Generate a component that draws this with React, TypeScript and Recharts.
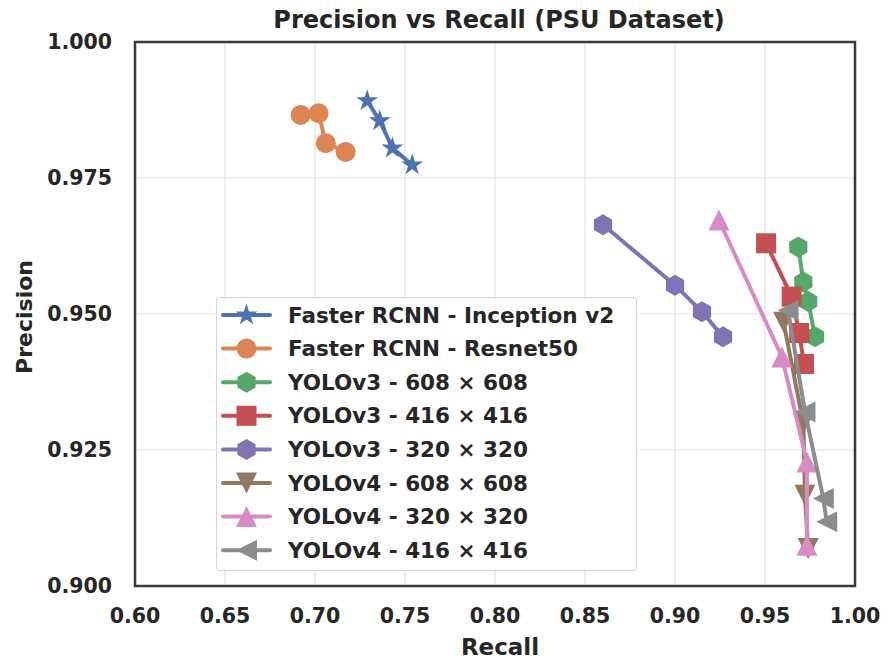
import React from "react";
import {
  ScatterChart,
  Scatter,
  XAxis,
  YAxis,
  CartesianGrid,
  ReferenceArea,
  Legend,
} from "recharts";

// recall / precision, 4 points per model
const inceptionRecall = [0.729, 0.736, 0.743, 0.754];
const inceptionPrecision = [0.9892, 0.9855, 0.9805, 0.9774];
const resnetRecall = [0.692, 0.702, 0.706, 0.717];
const resnetPrecision = [0.9866, 0.9869, 0.9814, 0.9798];
const v3_608Recall = [0.9685, 0.9713, 0.974, 0.9778];
const v3_608Precision = [0.9623, 0.9559, 0.9523, 0.9458];
const v3_416Recall = [0.9506, 0.9648, 0.969, 0.9717];
const v3_416Precision = [0.963, 0.9532, 0.9465, 0.9408];
const v3_320Recall = [0.86, 0.9, 0.915, 0.9267];
const v3_320Precision = [0.9664, 0.9553, 0.9504, 0.9458];
const v4_608Recall = [0.9603, 0.9713, 0.9722, 0.974];
const v4_608Precision = [0.9485, 0.9299, 0.9167, 0.9069];
const v4_320Recall = [0.9244, 0.9594, 0.9733, 0.9733];
const v4_320Precision = [0.9673, 0.9421, 0.9228, 0.9075];
const v4_416Recall = [0.9628, 0.9722, 0.9824, 0.9843];
const v4_416Precision = [0.9507, 0.932, 0.9161, 0.9118];

const xTicks = [0.6, 0.65, 0.7, 0.75, 0.8, 0.85, 0.9, 0.95, 1.0];
const yTicks = [0.9, 0.925, 0.95, 0.975, 1.0];

type Kind = "star" | "circle" | "hexagon" | "square" | "tri_down" | "tri_up" | "tri_left";

const zip = (r: number[], p: number[]) => r.map((v, i) => ({ recall: v, precision: p[i] }));

const series = [
  { name: "Faster RCNN - Inception v2", color: "#4C72B0", kind: "star" as Kind, data: zip(inceptionRecall, inceptionPrecision) },
  { name: "Faster RCNN - Resnet50", color: "#DD8452", kind: "circle" as Kind, data: zip(resnetRecall, resnetPrecision) },
  { name: "YOLOv3 - 608 × 608", color: "#55A868", kind: "hexagon" as Kind, data: zip(v3_608Recall, v3_608Precision) },
  { name: "YOLOv3 - 416 × 416", color: "#C44E52", kind: "square" as Kind, data: zip(v3_416Recall, v3_416Precision) },
  { name: "YOLOv3 - 320 × 320", color: "#8172B3", kind: "hexagon" as Kind, data: zip(v3_320Recall, v3_320Precision) },
  { name: "YOLOv4 - 608 × 608", color: "#937860", kind: "tri_down" as Kind, data: zip(v4_608Recall, v4_608Precision) },
  { name: "YOLOv4 - 320 × 320", color: "#DA8BC3", kind: "tri_up" as Kind, data: zip(v4_320Recall, v4_320Precision) },
  { name: "YOLOv4 - 416 × 416", color: "#8C8C8C", kind: "tri_left" as Kind, data: zip(v4_416Recall, v4_416Precision) },
];

const FONT = '"DejaVu Sans", sans-serif';
const INK = "#262626";

function poly(pts: number[][]) {
  return pts.map((p) => p.join(",")).join(" ");
}

function Marker({ kind, cx, cy, color }: { kind: Kind; cx: number; cy: number; color: string }) {
  const r = 10.5;
  if (kind === "circle") return <circle cx={cx} cy={cy} r={10} fill={color} />;
  if (kind === "square") return <rect x={cx - 10} y={cy - 10} width={20} height={20} fill={color} />;
  if (kind === "star") {
    const pts: number[][] = [];
    for (let i = 0; i < 10; i++) {
      const rr = i % 2 === 0 ? 11.5 : 11.5 * 0.382;
      const a = -Math.PI / 2 + (i * Math.PI) / 5;
      pts.push([cx + rr * Math.cos(a), cy + rr * Math.sin(a)]);
    }
    return <polygon points={poly(pts)} fill={color} />;
  }
  if (kind === "hexagon") {
    const pts: number[][] = [];
    for (let i = 0; i < 6; i++) {
      const a = -Math.PI / 2 + (i * Math.PI) / 3;
      pts.push([cx + r * Math.cos(a), cy + r * Math.sin(a)]);
    }
    return <polygon points={poly(pts)} fill={color} />;
  }
  if (kind === "tri_up")
    return <polygon points={poly([[cx, cy - r], [cx - r, cy + r], [cx + r, cy + r]])} fill={color} />;
  if (kind === "tri_down")
    return <polygon points={poly([[cx, cy + r], [cx - r, cy - r], [cx + r, cy - r]])} fill={color} />;
  return <polygon points={poly([[cx - r, cy], [cx + r, cy - r], [cx + r, cy + r]])} fill={color} />;
}

function LegendBox() {
  return (
    <div
      style={{
        width: "100%",
        height: "100%",
        boxSizing: "border-box",
        border: "1px solid #d4d4d4",
        borderRadius: 4,
        background: "rgba(255,255,255,0.85)",
      }}
    >
      <svg width={419} height={272} style={{ display: "block" }}>
        {series.map((s, i) => {
          const y = 17 + i * 33.6;
          return (
            <g key={s.name}>
              <line x1={6} x2={53} y1={y} y2={y} stroke={s.color} strokeWidth={4} strokeLinecap="round" />
              <Marker kind={s.kind} cx={29.5} cy={y} color={s.color} />
              <text
                x={71}
                y={y}
                dominantBaseline="central"
                fontFamily={FONT}
                fontWeight="bold"
                fontSize={21.5}
                fill={INK}
              >
                {s.name}
              </text>
            </g>
          );
        })}
      </svg>
    </div>
  );
}

export default function App() {
  const tickStyle = { fill: INK, fontSize: 20.5, fontWeight: "bold", fontFamily: FONT };
  return (
    <div style={{ position: "absolute", left: 0, top: 0, width: 895, height: 659, background: "#fff" }}>
      <div
        style={{
          position: "absolute",
          left: 139,
          width: 720,
          top: 6,
          textAlign: "center",
          fontFamily: FONT,
          fontWeight: "bold",
          fontSize: 24,
          color: INK,
        }}
      >
        Precision vs Recall (PSU Dataset)
      </div>
      <ScatterChart width={895} height={659} margin={{ top: 42, right: 40, left: 0, bottom: 0 }}>
        <CartesianGrid stroke="#e3e3e3" strokeWidth={1.2} />
        <XAxis
          type="number"
          dataKey="recall"
          domain={[0.6, 1.0]}
          ticks={xTicks}
          allowDataOverflow
          height={73}
          tickLine={false}
          axisLine={false}
          tickSize={6}
          tickMargin={16}
          tick={tickStyle}
          tickFormatter={(v: number) => v.toFixed(2)}
          label={{
            content: () => (
              <text
                x={500}
                y={655}
                textAnchor="middle"
                fill={INK}
                fontSize={23}
                fontWeight="bold"
                fontFamily={FONT}
              >
                Recall
              </text>
            ),
          }}
        />
        <YAxis
          type="number"
          dataKey="precision"
          domain={[0.9, 1.0]}
          ticks={yTicks}
          allowDataOverflow
          width={135}
          tickLine={false}
          axisLine={false}
          tickSize={6}
          tickMargin={17}
          tick={tickStyle}
          tickFormatter={(v: number) => v.toFixed(3)}
          label={{
            content: () => (
              <text
                x={24}
                y={317}
                transform="rotate(-90 24 317)"
                textAnchor="middle"
                dominantBaseline="central"
                fill={INK}
                fontSize={22}
                fontWeight="bold"
                fontFamily={FONT}
              >
                Precision
              </text>
            ),
          }}
        />
        <ReferenceArea x1={0.6} x2={1.0} y1={0.9} y2={1.0} fill="none" stroke="#3a3a3a" strokeWidth={2.5} />
        {series.map((s) => (
          <Scatter
            key={s.name}
            name={s.name}
            data={s.data}
            fill={s.color}
            line={{ stroke: s.color, strokeWidth: 4 }}
            isAnimationActive={false}
            shape={(p: any) => <Marker kind={s.kind} cx={p.cx} cy={p.cy} color={s.color} />}
          />
        ))}
        <Legend
          layout="vertical"
          align="center"
          verticalAlign="middle"
          content={() => <LegendBox />}
          wrapperStyle={{ left: 216, top: 297, width: 421, height: 274 }}
        />
      </ScatterChart>
    </div>
  );
}
